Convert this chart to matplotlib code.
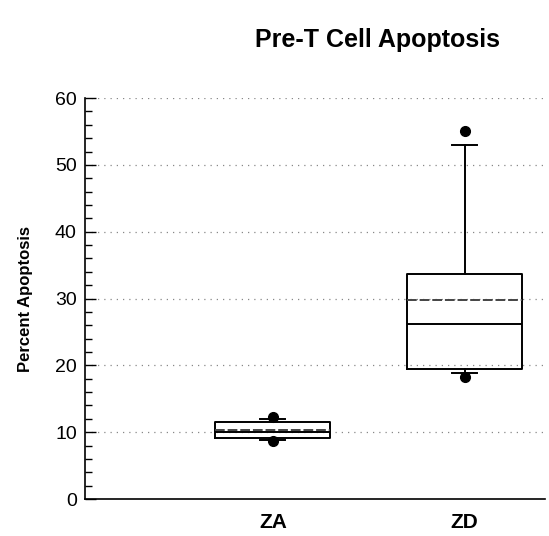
import matplotlib
matplotlib.use('Agg')
from matplotlib import pyplot as plt
from matplotlib.ticker import MultipleLocator

# values
groups = ['ZA', 'ZD']
q1 = [9.2, 19.4]
medians = [10.1, 26.2]
q3 = [11.5, 33.6]
means = [10.3, 29.8]
whisker_low = [8.9, 18.9]
whisker_high = [12.0, 53.0]
outliers = [[8.7, 12.3], [18.3, 55.1]]

plt.rcParams['font.family'] = ['Liberation Sans', 'DejaVu Sans']

stats = []
for i, name in enumerate(groups):
    stats.append({'label': name, 'med': medians[i], 'q1': q1[i], 'q3': q3[i],
                  'mean': means[i], 'whislo': whisker_low[i], 'whishi': whisker_high[i],
                  'fliers': outliers[i]})

fig = plt.figure(figsize=(5.49, 5.36), dpi=100)
ax = fig.add_axes([0.155, 0.069, 0.838, 0.748])

ax.bxp(stats, positions=[1, 2], widths=0.6, showmeans=True, meanline=True,
       boxprops=dict(color='black', linewidth=1.4),
       medianprops=dict(color='black', linewidth=1.4),
       meanprops=dict(color='#444444', linestyle=(0, (5, 1.5)), linewidth=1.4),
       whiskerprops=dict(color='black', linewidth=1.4),
       capprops=dict(color='black', linewidth=1.4),
       capwidths=0.13,
       flierprops=dict(marker='o', markerfacecolor='black', markeredgecolor='black',
                       markersize=7))

ax.set_xlim(0.02, 2.42)
ax.set_ylim(0, 60)
ax.yaxis.set_major_locator(MultipleLocator(10))
ax.yaxis.set_minor_locator(MultipleLocator(2))
ax.tick_params(axis='y', which='major', direction='in', length=8, width=1, labelsize=14, pad=6)
ax.tick_params(axis='y', which='minor', direction='in', length=5, width=1)
ax.tick_params(axis='x', length=0, labelsize=15, pad=10)
for lbl in ax.get_xticklabels():
    lbl.set_fontweight('bold')

for v in range(10, 61, 10):
    ax.axhline(v, color='#888888', linestyle=(0, (1, 4)), linewidth=0.9, zorder=0)

ax.spines['top'].set_visible(False)
ax.spines['right'].set_visible(False)
ax.spines['left'].set_linewidth(1.2)
ax.spines['bottom'].set_linewidth(1.2)

ax.set_ylabel('Percent Apoptosis', fontsize=12, fontweight='bold', labelpad=16)
fig.text(0.688, 0.925, 'Pre-T Cell Apoptosis', ha='center', va='center',
         fontsize=18, fontweight='bold')

plt.savefig('out.png')
